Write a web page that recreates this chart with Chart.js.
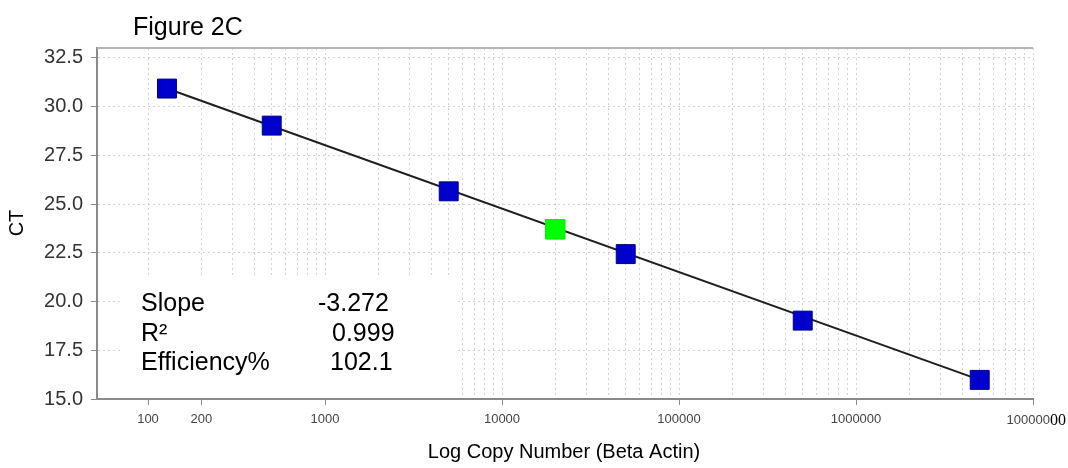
<!DOCTYPE html>
<html><head><meta charset="utf-8">
<script src="https://cdn.jsdelivr.net/npm/chart.js@4"></script>
<style>html,body{margin:0;padding:0;background:#fff;} #wrap{width:1068px;height:468px;}</style>
</head><body><div id="wrap"><canvas id="c" width="1068" height="468"></canvas></div>
<script>
const chartTitle = 'Figure 2C';
const xAxisTitle = 'Log Copy Number (Beta Actin)';
const yAxisTitle = 'CT';
const standardCopies = [128, 500, 5000, 50000, 500000, 5000000];
const standardCt = [30.92, 29.02, 25.65, 22.43, 19.02, 15.98];
const unknownCopies = [20000];
const unknownCt = [23.70];
const fitCopies = [128, 5000000];
const fitCt = [30.92, 15.98];
const xLabeledTicks = [100, 200, 1000, 10000, 100000, 1000000, 10000000];
const xTickLabels = ['100', '200', '1000', '10000', '100000', '1000000', '10000000'];
const xGridDecades = [100, 1000, 10000, 100000, 1000000];
const xMin = 51.5, xMax = 10000000;
const yMin = 15, yMax = 33, yStep = 2.5;
const statLabels = ['Slope', 'R\u00B2', 'Efficiency%'];
const statValues = ['-3.272', '0.999', '102.1'];

const xGridValues = [];
xGridDecades.forEach(d => { for (let m = 1; m <= 9; m++) xGridValues.push(d * m); });
xGridValues.push(xMax);

const pts = (xs, ys) => xs.map((x, i) => ({x: x, y: ys[i]}));
const GRID = '#d2d2d2';
const AXIS = '#8a8a8a';
const FONT = "'Liberation Sans', Arial, sans-serif";

const overlay = {
  id: 'overlay',
  beforeDatasetsDraw(chart) {
    const c = chart.ctx, a = chart.chartArea;
    c.save();
    // stats box
    c.fillStyle = '#fff';
    c.fillRect(120, 277, 335, a.bottom - 1 - 277);
    c.fillStyle = '#000';
    c.font = '25px ' + FONT;
    c.textBaseline = 'alphabetic';
    c.textAlign = 'left';
    const base = [311, 341, 370];
    const valX = [318, 332, 330];
    statLabels.forEach((t, i) => c.fillText(t, 141, base[i]));
    statValues.forEach((t, i) => c.fillText(t, valX[i], base[i]));
    // top frame
    c.strokeStyle = '#b4b4b4';
    c.lineWidth = 2;
    c.beginPath();
    c.moveTo(a.left, a.top); c.lineTo(a.right, a.top);
    c.stroke();
    c.restore();
  },
  afterDraw(chart) {
    const c = chart.ctx, a = chart.chartArea;
    const xs = chart.scales.x;
    c.save();
    c.fillStyle = '#000';
    c.font = '25px ' + FONT;
    c.textAlign = 'left';
    c.textBaseline = 'alphabetic';
    c.fillText(chartTitle, 133, 35);
    c.font = '20px ' + FONT;
    c.textAlign = 'center';
    c.textBaseline = 'middle';
    c.fillText(xAxisTitle, 564, 452);
    c.save();
    c.translate(17, 223);
    c.rotate(-Math.PI / 2);
    c.fillText(yAxisTitle, 0, 0);
    c.restore();
    // last x label, drawn in two fonts like the reference
    const lastLabel = xTickLabels[xTickLabels.length - 1];
    const px = xs.getPixelForValue(xLabeledTicks[xLabeledTicks.length - 1]);
    c.font = '13px ' + FONT;
    c.fillStyle = '#444';
    c.textAlign = 'right';
    c.fillText(lastLabel.slice(0, 6), px + 17, 420);
    c.font = "16px 'Liberation Serif', 'Times New Roman', serif";
    c.fillStyle = '#000';
    c.textAlign = 'left';
    c.fillText(lastLabel.slice(6), px + 17, 421);
    c.restore();
  }
};

new Chart(document.getElementById('c').getContext('2d'), {
  type: 'scatter',
  data: {
    datasets: [
      {label: 'fit', data: pts(fitCopies, fitCt), showLine: true, borderColor: '#1e1e1e', borderWidth: 2, pointRadius: 0, order: 3},
      {label: 'standards', data: pts(standardCopies, standardCt), pointStyle: 'rect', pointRadius: 13.4,
        backgroundColor: '#0000cc', borderColor: '#00008c', borderWidth: 1, order: 1},
      {label: 'unknown', data: pts(unknownCopies, unknownCt), pointStyle: 'rect', pointRadius: 13.8,
        backgroundColor: '#00ff00', borderColor: '#00f000', borderWidth: 1, order: 1}
    ]
  },
  options: {
    responsive: false, animation: false, devicePixelRatio: 1,
    layout: {padding: {top: 48, right: 35, left: 0, bottom: 0}},
    plugins: {legend: {display: false}, tooltip: {enabled: false}, title: {display: false}},
    scales: {
      x: {
        type: 'logarithmic', min: xMin, max: xMax,
        afterBuildTicks: s => { s.ticks = xGridValues.map(v => ({value: v})); },
        afterFit: s => { s.height = 69; },
        ticks: {
          autoSkip: false, maxRotation: 0, minRotation: 0, padding: 7, color: '#444',
          font: {family: FONT, size: 13},
          callback: v => { const i = xLabeledTicks.indexOf(v); return (i >= 0 && i < xLabeledTicks.length - 1) ? xTickLabels[i] : ''; }
        },
        grid: {
          color: GRID, lineWidth: 1, tickLength: 6,
          tickColor: c => (c.tick && xLabeledTicks.includes(c.tick.value)) ? AXIS : 'transparent'
        },
        border: {display: true, color: AXIS, width: 2, dash: [2, 3]}
      },
      y: {
        min: yMin, max: yMax,
        afterFit: s => { s.width = 97; },
        ticks: {stepSize: yStep, includeBounds: false, padding: 8, color: '#333',
          font: {family: FONT, size: 20}, callback: v => Number(v).toFixed(1)},
        grid: {color: c => (c.tick && c.tick.value === yMin) ? 'transparent' : GRID, lineWidth: 1, tickLength: 6, tickColor: AXIS},
        border: {display: true, color: AXIS, width: 2, dash: [2, 3]}
      }
    }
  },
  plugins: [overlay]
});
</script>
</body></html>
